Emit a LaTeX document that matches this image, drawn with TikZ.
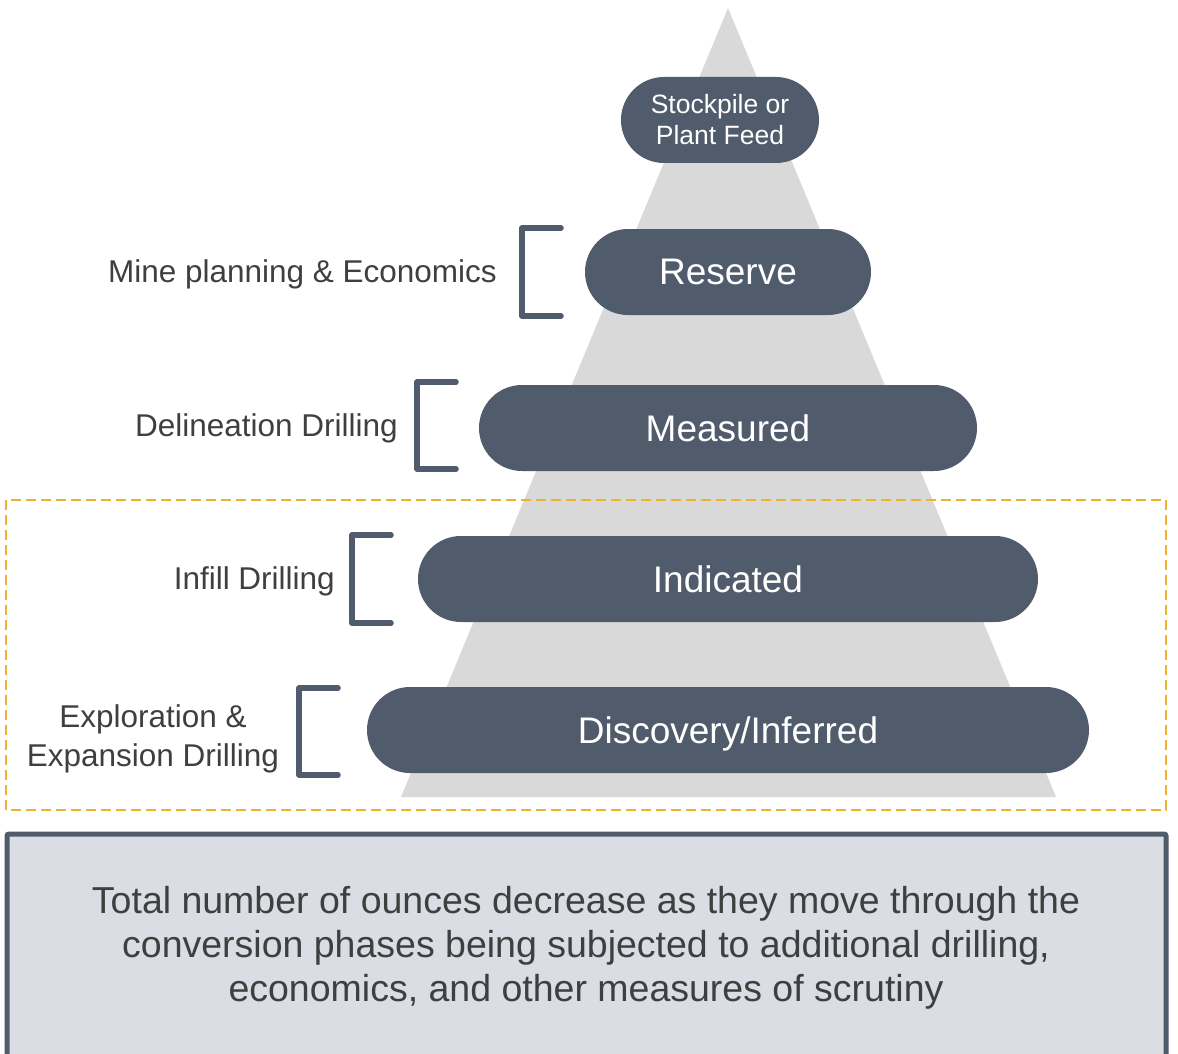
\documentclass[tikz,border=0pt]{standalone}
\usepackage{fontspec}
\setmainfont{Liberation Sans}
\usetikzlibrary{shapes.misc}
\definecolor{pillc}{HTML}{505B6C}
\definecolor{trig}{HTML}{D9D9D9}
\definecolor{txtc}{HTML}{3F3F3F}
\definecolor{dashc}{HTML}{F0B030}
\definecolor{boxc}{HTML}{DADDE3}
\tikzset{
  pill/.style={rounded rectangle, fill=pillc, text=white, minimum height=86pt, inner sep=0pt, font=\fontsize{37}{40}\selectfont},
  lbl/.style={text=txtc, inner sep=0pt, font=\fontsize{31.5}{39}\selectfont},
  brk/.style={draw=pillc, line width=5.5pt, line cap=round, line join=round},
}
\begin{document}
\begin{tikzpicture}[x=1pt,y=-1pt]
\useasboundingbox (0,0) rectangle (1178,1054);
\clip (0,0) rectangle (1178,1054);
% pyramid
\fill[trig] (728,8) -- (1056,797) -- (401,797) -- cycle;
% pills
\node[pill, minimum width=198pt, font=\fontsize{26.5}{31}\selectfont, align=center] (stock) at (720,120) {Stockpile or\\Plant Feed};
\node[pill, minimum width=286pt, text depth=0pt] (reserve) at (728,272) {Reserve};
\node[pill, minimum width=498pt, text depth=0pt] (measured) at (728,428) {Measured};
\node[pill, minimum width=620pt, text depth=0pt] (indicated) at (728,579) {Indicated};
\node[pill, minimum width=722pt, text depth=0pt] (discovery) at (728,730) {Discovery/Inferred};
% brackets
\draw[brk] (561,228) -- (522,228) -- (522,316) -- (561,316);
\draw[brk] (456,382) -- (417,382) -- (417,469) -- (456,469);
\draw[brk] (391,535) -- (352,535) -- (352,623) -- (391,623);
\draw[brk] (338,688) -- (299,688) -- (299,775) -- (338,775);
% labels
\node[lbl, anchor=east] (l1) at (497,274) {Mine planning \& Economics};
\node[lbl, anchor=east] (l2) at (398,428) {Delineation Drilling};
\node[lbl, anchor=east] (l3) at (335,581) {Infill Drilling};
\node[lbl, align=center] (l4) at (153,739) {Exploration \&\\Expansion Drilling};
% dashed frame
\draw[dashc, line width=2pt, dash pattern=on 10pt off 5pt] (6,500) rectangle (1166,810);
% bottom box
\draw[draw=pillc, fill=boxc, line width=5pt, rounded corners=2pt] (7,834) rectangle (1166,1070);
\node[text=txtc, align=center, inner sep=0pt, font=\fontsize{37.5}{44}\selectfont] (note) at (586,948)
 {Total number of ounces decrease as they move through the\\conversion phases being subjected to additional drilling,\\economics, and other measures of scrutiny};
\end{tikzpicture}
\end{document}
